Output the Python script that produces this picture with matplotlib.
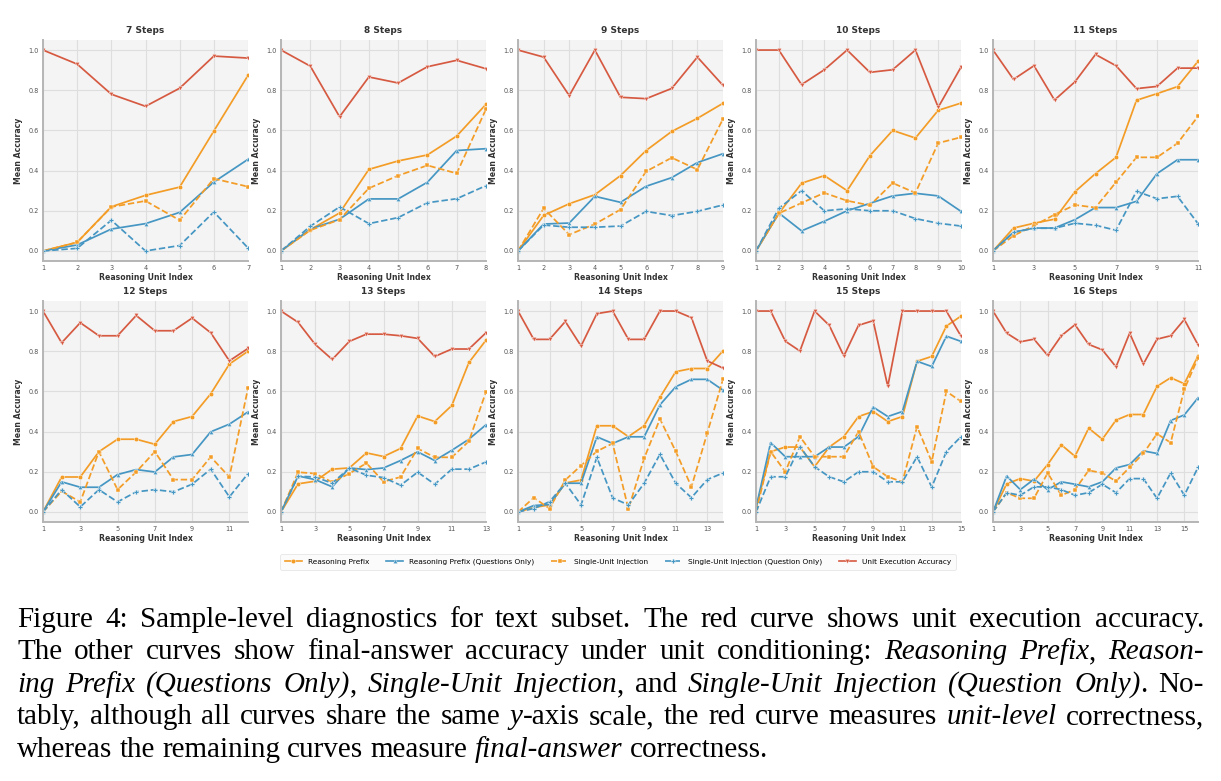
import matplotlib
matplotlib.use('Agg')
import matplotlib.pyplot as plt
from matplotlib.lines import Line2D

# ---------------- data ----------------
steps = [7, 8, 9, 10, 11, 12, 13, 14, 15, 16]

series_labels = ["Reasoning Prefix", "Reasoning Prefix (Questions Only)",
                 "Single-Unit Injection", "Single-Unit Injection (Question Only)",
                 "Unit Execution Accuracy"]

reasoning_prefix = {
    7: [0.0, 0.043, 0.22, 0.277, 0.318, 0.597, 0.874],
    8: [0.0, 0.106, 0.189, 0.406, 0.448, 0.478, 0.572, 0.73],
    9: [0.0, 0.177, 0.235, 0.28, 0.375, 0.5, 0.595, 0.66, 0.735],
    10: [0.0, 0.186, 0.337, 0.375, 0.3, 0.474, 0.6, 0.562, 0.7, 0.736],
    11: [0.0, 0.114, 0.138, 0.158, 0.295, 0.385, 0.466, 0.75, 0.783, 0.818, 0.944],
    12: [0.0, 0.174, 0.174, 0.3, 0.362, 0.362, 0.337, 0.45, 0.475, 0.588, 0.736, 0.8],
    13: [0.0, 0.14, 0.153, 0.213, 0.219, 0.294, 0.276, 0.316, 0.478, 0.45, 0.53, 0.744, 0.855],
    14: [0.0, 0.022, 0.035, 0.144, 0.159, 0.429, 0.429, 0.375, 0.429, 0.57, 0.698, 0.714, 0.714, 0.802],
    15: [0.02, 0.3, 0.323, 0.323, 0.225, 0.323, 0.375, 0.475, 0.5, 0.45, 0.475, 0.75, 0.774, 0.925, 0.975],
    16: [0.0, 0.14, 0.166, 0.153, 0.236, 0.334, 0.277, 0.417, 0.362, 0.457, 0.485, 0.485, 0.625, 0.668, 0.638, 0.777],
}

reasoning_prefix_q = {
    7: [0.0, 0.03, 0.109, 0.136, 0.192, 0.343, 0.456],
    8: [0.0, 0.109, 0.158, 0.259, 0.259, 0.342, 0.5, 0.509],
    9: [0.0, 0.134, 0.139, 0.272, 0.242, 0.322, 0.365, 0.44, 0.484],
    10: [0.0, 0.189, 0.1, 0.148, 0.2, 0.237, 0.274, 0.287, 0.274, 0.197],
    11: [0.0, 0.093, 0.114, 0.114, 0.156, 0.216, 0.216, 0.247, 0.385, 0.454, 0.454],
    12: [0.0, 0.15, 0.123, 0.123, 0.186, 0.211, 0.199, 0.274, 0.286, 0.399, 0.437, 0.498],
    13: [0.0, 0.179, 0.161, 0.125, 0.219, 0.211, 0.219, 0.256, 0.299, 0.256, 0.307, 0.362, 0.434],
    14: [0.0, 0.032, 0.037, 0.143, 0.143, 0.374, 0.341, 0.374, 0.374, 0.533, 0.623, 0.66, 0.66, 0.606],
    15: [0.02, 0.345, 0.275, 0.275, 0.275, 0.323, 0.323, 0.375, 0.522, 0.475, 0.5, 0.75, 0.724, 0.875, 0.849],
    16: [0.0, 0.179, 0.111, 0.163, 0.111, 0.15, 0.138, 0.125, 0.15, 0.219, 0.236, 0.304, 0.291, 0.455, 0.483, 0.568],
}

single_unit = {
    7: [0.0, 0.043, 0.219, 0.249, 0.153, 0.36, 0.32],
    8: [0.0, 0.103, 0.156, 0.312, 0.375, 0.426, 0.386, 0.706],
    9: [0.0, 0.212, 0.081, 0.134, 0.206, 0.396, 0.464, 0.405, 0.657],
    10: [0.0, 0.187, 0.239, 0.289, 0.25, 0.227, 0.338, 0.289, 0.537, 0.566],
    11: [0.0, 0.076, 0.126, 0.181, 0.229, 0.216, 0.342, 0.466, 0.466, 0.536, 0.67],
    12: [0.0, 0.103, 0.05, 0.3, 0.111, 0.199, 0.3, 0.161, 0.161, 0.274, 0.174, 0.616],
    13: [0.0, 0.198, 0.191, 0.148, 0.191, 0.243, 0.151, 0.174, 0.316, 0.272, 0.272, 0.352, 0.598],
    14: [0.0, 0.071, 0.017, 0.159, 0.231, 0.302, 0.341, 0.015, 0.267, 0.463, 0.302, 0.125, 0.392, 0.661],
    15: [0.0, 0.3, 0.2, 0.375, 0.275, 0.275, 0.275, 0.4, 0.225, 0.175, 0.15, 0.425, 0.25, 0.6, 0.55],
    16: [0.0, 0.096, 0.068, 0.068, 0.194, 0.083, 0.111, 0.207, 0.194, 0.153, 0.222, 0.291, 0.389, 0.345, 0.611, 0.766],
}

single_unit_q = {
    7: [0.0, 0.013, 0.153, 0.0, 0.027, 0.194, 0.015],
    8: [0.0, 0.123, 0.219, 0.136, 0.166, 0.24, 0.26, 0.325],
    9: [0.0, 0.129, 0.118, 0.118, 0.124, 0.197, 0.176, 0.197, 0.229],
    10: [0.0, 0.212, 0.3, 0.2, 0.21, 0.2, 0.2, 0.161, 0.138, 0.124],
    11: [0.0, 0.093, 0.113, 0.113, 0.138, 0.128, 0.103, 0.297, 0.26, 0.272, 0.136],
    12: [0.0, 0.111, 0.025, 0.111, 0.05, 0.1, 0.111, 0.1, 0.138, 0.213, 0.075, 0.191],
    13: [0.0, 0.178, 0.174, 0.143, 0.219, 0.183, 0.171, 0.133, 0.198, 0.138, 0.213, 0.213, 0.249],
    14: [0.0, 0.017, 0.051, 0.143, 0.035, 0.272, 0.07, 0.035, 0.143, 0.287, 0.143, 0.071, 0.161, 0.194],
    15: [0.0, 0.175, 0.175, 0.325, 0.225, 0.175, 0.15, 0.2, 0.2, 0.15, 0.15, 0.275, 0.124, 0.3, 0.375],
    16: [0.0, 0.096, 0.083, 0.125, 0.125, 0.111, 0.083, 0.096, 0.138, 0.096, 0.166, 0.166, 0.068, 0.194, 0.083, 0.222],
}

unit_exec = {
    7: [1.0, 0.93, 0.78, 0.72, 0.81, 0.97, 0.96],
    8: [1.0, 0.92, 0.668, 0.866, 0.836, 0.917, 0.949, 0.907],
    9: [1.0, 0.965, 0.773, 1.0, 0.765, 0.758, 0.809, 0.965, 0.824],
    10: [1.0, 1.0, 0.828, 0.902, 1.0, 0.889, 0.902, 1.0, 0.715, 0.915],
    11: [1.0, 0.854, 0.922, 0.751, 0.842, 0.978, 0.922, 0.808, 0.819, 0.91, 0.91],
    12: [1.0, 0.842, 0.942, 0.877, 0.877, 0.978, 0.902, 0.902, 0.965, 0.892, 0.752, 0.814],
    13: [1.0, 0.944, 0.834, 0.759, 0.849, 0.885, 0.885, 0.877, 0.864, 0.774, 0.811, 0.811, 0.892],
    14: [1.0, 0.859, 0.859, 0.948, 0.826, 0.987, 1.0, 0.859, 0.859, 1.0, 1.0, 0.967, 0.752, 0.716],
    15: [1.0, 1.0, 0.85, 0.801, 1.0, 0.929, 0.776, 0.929, 0.952, 0.625, 1.0, 1.0, 1.0, 1.0, 0.875],
    16: [1.0, 0.89, 0.847, 0.86, 0.779, 0.877, 0.932, 0.834, 0.807, 0.722, 0.89, 0.736, 0.86, 0.877, 0.958, 0.832],
}

yticks = [0.0, 0.2, 0.4, 0.6, 0.8, 1.0]

caption_lines = [
    "Figure 4:  Sample-level diagnostics for text subset. The red curve shows unit execution accuracy.",
    "The other curves show final-answer accuracy under unit conditioning: _Reasoning Prefix_, _Reason-_",
    "_ing Prefix (Questions Only)_, _Single-Unit Injection_, and _Single-Unit Injection (Question Only)_. No-",
    "tably, although all curves share the same _y_-axis scale, the red curve measures _unit-level_ correctness,",
    "whereas the remaining curves measure _final-answer_ correctness.",
]

# ---------------- styles ----------------
ORANGE = '#f39c26'
BLUE = '#4596c3'
RED = '#d65a41'
styles = [
    dict(color=ORANGE, ls='-', marker='o', ms=3.2),
    dict(color=BLUE, ls='-', marker='^', ms=3.2),
    dict(color=ORANGE, ls='--', marker='s', ms=3.4),
    dict(color=BLUE, ls='--', marker='P', ms=3.4),
    dict(color=RED, ls='-', marker='v', ms=3.2),
]
all_series = [reasoning_prefix, reasoning_prefix_q, single_unit, single_unit_q, unit_exec]

W, H = 1221, 781
fig = plt.figure(figsize=(W / 100, H / 100), dpi=100)
fig.patch.set_facecolor('white')

col_left = [43, 281, 518, 756, 993]
ax_w = 205
row_top = [40, 301]
ax_h = 221

for i, n in enumerate(steps):
    r, c = divmod(i, 5)
    l = col_left[c]
    t = row_top[r]
    ax = fig.add_axes([l / W, 1 - (t + ax_h) / H, ax_w / W, ax_h / H])
    ax.set_facecolor('#f4f4f4')
    ax.grid(True, color='#dedede', linewidth=0.8)
    ax.set_axisbelow(True)
    for s in ['top', 'right']:
        ax.spines[s].set_visible(False)
    for s in ['left', 'bottom']:
        ax.spines[s].set_color('#b5b5b5')
        ax.spines[s].set_linewidth(1.4)
    xs = list(range(1, n + 1))
    for data, st in zip(all_series, styles):
        ax.plot(xs, data[n], color=st['color'], ls=st['ls'], lw=1.25,
                marker=st['marker'], ms=st['ms'], mec='white', mew=0.3)
    ax.set_xlim(1, n)
    ax.set_ylim(-0.05, 1.05)
    ax.set_yticks(yticks)
    ax.set_yticklabels([f"{v:.1f}" for v in yticks])
    if n <= 10:
        ax.set_xticks(xs)
    else:
        ax.set_xticks(list(range(1, n + 1, 2)))
    ax.tick_params(axis='both', labelsize=4.7, colors='#555555', length=0, pad=3)
    ax.set_title(f"{n} Steps", fontsize=6.5, fontweight='bold', color='#333333', pad=5)
    ax.set_ylabel("Mean Accuracy", fontsize=5.6, fontweight='bold', color='#333333', labelpad=4)
    ax.set_xlabel("Reasoning Unit Index", fontsize=5.6, fontweight='bold', color='#333333', labelpad=1)

handles = [Line2D([], [], color=st['color'], ls=st['ls'], lw=1.2, marker=st['marker'],
                  ms=st['ms'], mec='white', mew=0.3) for st in styles]
leg = fig.legend(handles, series_labels, loc='center', bbox_to_anchor=(618 / W, 1 - 562 / H),
                 ncol=5, fontsize=5.3, frameon=True, handlelength=2.4, columnspacing=2.2,
                 handletextpad=0.8, borderpad=0.6)
leg.get_frame().set_facecolor('#fafafa')
leg.get_frame().set_edgecolor('#e0e0e0')
leg.get_frame().set_linewidth(0.6)

# ---------------- caption (justified) ----------------
renderer = fig.canvas.get_renderer()
FS = 21
FAM = 'Liberation Serif'
x_left, x_right = 17, 1204
baselines = [627, 659, 692, 724, 757]


def parse_line(line):
    words = []
    italic = False
    for w in line.split(' '):
        if w == '':
            continue
        pieces = []
        parts = w.split('_')
        for k, p in enumerate(parts):
            if k > 0:
                italic = not italic
            if p:
                pieces.append((p, italic))
        words.append(pieces)
    return words


def measure(text, italic):
    t = fig.text(0, 0, text, fontsize=FS, family=FAM, style='italic' if italic else 'normal')
    bb = t.get_window_extent(renderer)
    t.remove()
    return bb.width


space_w = measure('a b', False) - measure('ab', False)
for li, (line, yb) in enumerate(zip(caption_lines, baselines)):
    words = parse_line(line)
    widths = [[measure(p, it) for p, it in w] for w in words]
    total = sum(sum(w) for w in widths)
    if li < len(caption_lines) - 1 and len(words) > 1:
        gap = (x_right - x_left - total) / (len(words) - 1)
    else:
        gap = space_w
    x = x_left
    for w, ws in zip(words, widths):
        for (p, it), pw in zip(w, ws):
            fig.text(x / W, 1 - yb / H, p, fontsize=FS, family=FAM,
                     style='italic' if it else 'normal', va='baseline', ha='left', color='black')
            x += pw
        x += gap

fig.savefig('out.png', dpi=100, facecolor='white')
